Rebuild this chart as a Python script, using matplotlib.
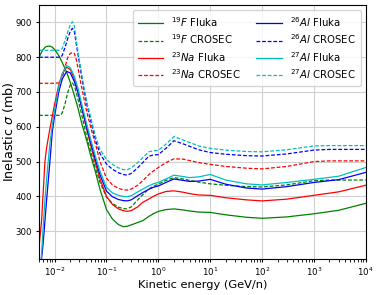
import numpy as np
import matplotlib
matplotlib.use("Agg")
from matplotlib import pyplot as plt

# kinetic energy grid (GeV/n) for the Fluka curves
E_fluka = [5e-3, 5.6e-3, 6e-3, 6.5e-3, 7e-3, 8e-3, 9e-3, 1e-2, 1.2e-2, 1.4e-2, 1.7e-2, 2e-2, 2.4e-2, 2.8e-2,
           3.4e-2, 4.2e-2, 5e-2, 6e-2, 7.5e-2, 0.1, 0.13, 0.17, 0.21, 0.25, 0.3, 0.4, 0.5, 0.65, 0.8, 1,
           1.4, 2, 3, 4, 6, 10, 20, 50, 100, 300, 1000, 3000, 1e4]

F19_fluka  = [800, 815, 822, 828, 831, 832, 829, 822, 805, 785, 757, 728, 690, 655,
              605, 558, 515, 475, 420, 362, 335, 319, 313, 314, 318, 325, 330, 342, 350, 357,
              362, 364, 361, 358, 355, 354, 347, 340, 337, 341, 350, 360, 380]
Na23_fluka = [255, 330, 410, 500, 540, 590, 630, 665, 720, 752, 771, 765, 738, 705,
              650, 590, 545, 500, 450, 400, 377, 364, 359, 357, 359, 370, 383, 392, 400, 407,
              414, 416, 412, 408, 404, 403, 396, 390, 387, 392, 403, 413, 432]
Al26_fluka = [150, 222, 265, 330, 390, 490, 585, 632, 700, 737, 759, 755, 730, 700,
              650, 595, 553, 510, 462, 415, 399, 391, 388, 387, 390, 402, 411, 420, 426, 430,
              440, 450, 446, 443, 444, 449, 435, 424, 421, 428, 440, 448, 469]
Al27_fluka = [160, 235, 310, 390, 450, 545, 605, 648, 715, 752, 776, 770, 745, 712,
              660, 605, 562, 520, 472, 426, 410, 403, 400, 399, 402, 413, 421, 430, 436, 440,
              450, 461, 457, 454, 456, 463, 447, 436, 433, 440, 449, 458, 483]

# kinetic energy grid (GeV/n) for the CROSEC curves
E_cros = [5e-3, 1e-2, 1.3e-2, 1.4e-2, 1.6e-2, 1.8e-2, 2e-2, 2.2e-2, 2.4e-2, 2.6e-2, 2.9e-2, 3.2e-2, 3.7e-2,
          4.2e-2, 5e-2, 5.5e-2, 6.2e-2, 7.5e-2, 0.1, 0.13, 0.17, 0.21, 0.25, 0.3, 0.4, 0.5, 0.65, 0.8, 1,
          1.4, 2, 3, 4, 6, 10, 20, 50, 100, 300, 1000, 2000, 1e4]

F19_cros  = [633, 633, 633, 640, 668, 700, 720, 726, 718, 700, 672, 645, 605,
             568, 528, 505, 478, 440, 398, 380, 369, 365, 364, 370, 390, 405, 421, 429, 435,
             446, 454, 450, 446, 441, 436, 432, 428, 427, 433, 445, 447, 447]
Na23_cros = [725, 725, 727, 740, 775, 800, 811, 813, 811, 795, 760, 725, 680,
             640, 597, 575, 548, 500, 452, 433, 423, 419, 418, 421, 432, 445, 462, 473, 483,
             497, 508, 507, 503, 497, 492, 486, 481, 479, 486, 500, 502, 502]
Al26_cros = [800, 800, 800, 805, 830, 855, 874, 883, 873, 840, 798, 758, 703,
             662, 615, 590, 560, 523, 493, 478, 468, 463, 461, 466, 482, 497, 515, 519, 520,
             538, 560, 551, 544, 534, 526, 521, 517, 516, 522, 533, 535, 535]
Al27_cros = [820, 820, 820, 825, 850, 874, 893, 902, 890, 850, 805, 765, 710,
             670, 625, 600, 570, 535, 506, 492, 482, 477, 476, 482, 497, 511, 528, 531, 532,
             550, 572, 562, 555, 545, 538, 533, 529, 528, 534, 545, 546, 546]

x_ticks = [1e-2, 1e-1, 1e0, 1e1, 1e2, 1e3, 1e4]

fig = plt.figure(figsize=(3.79, 2.95), dpi=100)
ax = fig.add_axes([0.103, 0.122, 0.862, 0.861])

ax.plot(E_fluka, F19_fluka, "g-", lw=0.9, label=r"$^{19}F$ Fluka")
ax.plot(E_cros, F19_cros, "g--", lw=0.9, dashes=(3, 1.5), label=r"$^{19}F$ CROSEC")
ax.plot(E_fluka, Na23_fluka, "r-", lw=0.9, label=r"$^{23}Na$ Fluka")
ax.plot(E_cros, Na23_cros, "r--", lw=0.9, dashes=(3, 1.5), label=r"$^{23}Na$ CROSEC")
ax.plot(E_fluka, Al26_fluka, "b-", lw=0.9, label=r"$^{26}Al$ Fluka")
ax.plot(E_cros, Al26_cros, "b--", lw=0.9, dashes=(3, 1.5), label=r"$^{26}Al$ CROSEC")
ax.plot(E_fluka, Al27_fluka, "c-", lw=0.9, label=r"$^{27}Al$ Fluka")
ax.plot(E_cros, Al27_cros, "c--", lw=0.9, dashes=(3, 1.5), label=r"$^{27}Al$ CROSEC")

ax.set_xscale("log")
ax.set_xticks(x_ticks)
ax.set_xlim(5e-3, 1e4)
ax.set_ylim(220, 950)
ax.grid(True, color="#d0d0d0", lw=0.8)
ax.tick_params(labelsize=6.2, length=2.5, pad=2.5)
ax.set_xlabel("Kinetic energy (GeV/n)", fontsize=8.2, labelpad=1)
ax.set_ylabel(r"Inelastic $\sigma$ (mb)", fontsize=9.2)
ax.yaxis.set_label_coords(-0.071, 0.5)
ax.legend(ncol=2, fontsize=7.3, loc="upper right", handlelength=2.5, columnspacing=1.5,
          labelspacing=0.35, borderpad=0.5)

fig.savefig("out.png", dpi=100)
